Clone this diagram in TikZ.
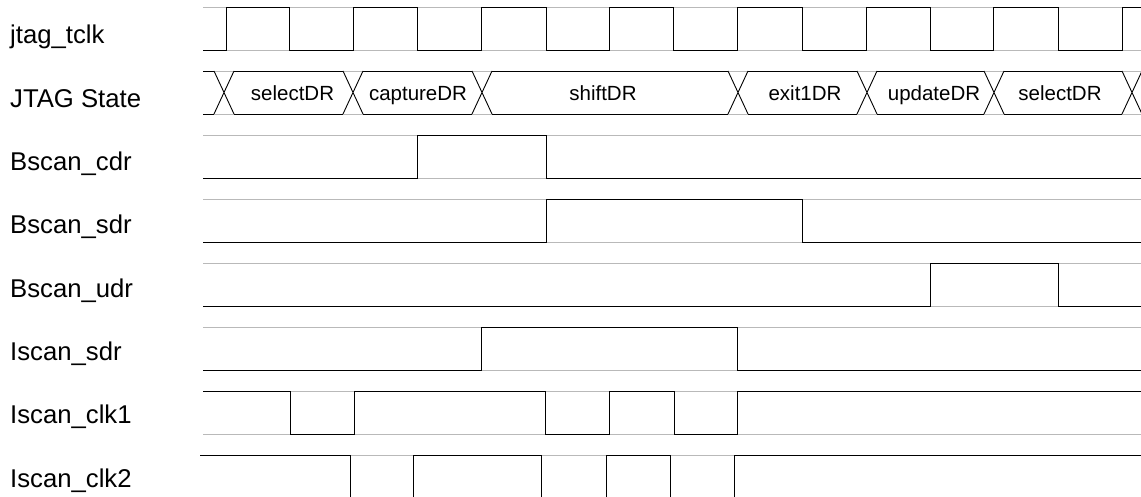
\documentclass[tikz,border=0pt]{standalone}
\usepackage{fontspec}
\setmainfont{Liberation Sans}
\begin{document}
\begin{tikzpicture}[x=1pt,y=-1pt,
  rail/.style={draw=gray!55,line width=0.8pt},
  sig/.style={draw=black,line width=0.9pt,line join=miter},
  lbl/.style={anchor=base west,inner sep=0pt,font=\fontsize{25.7}{30}\selectfont},
  buslbl/.style={anchor=base,inner sep=0pt,font=\fontsize{20.5}{24}\selectfont}]
\useasboundingbox (0,0) rectangle (1141,497);
\clip (0,0) rectangle (1141,497);
% rails
\foreach \t/\s in {7/203,71/203,135/203,199/203,263/203,327/203,391/203,455/200} {
  \draw[rail] (\s,\t) -- (1141,\t);
  \draw[rail] (\s,\t+43) -- (1141,\t+43);
}
% labels
\node[lbl] (l1) at (10,44) {jtag\_tclk};
\node[lbl] (l2) at (10,107.3) {JTAG State};
\node[lbl] (l3) at (10,170.6) {Bscan\_cdr};
\node[lbl] (l4) at (10,233.9) {Bscan\_sdr};
\node[lbl] (l5) at (10,297.2) {Bscan\_udr};
\node[lbl] (l6) at (10,360.5) {Iscan\_sdr};
\node[lbl] (l7) at (10,423.8) {Iscan\_clk1};
\node[lbl] (l8) at (10,487.1) {Iscan\_clk2};
% jtag_tclk
\draw[sig] (203,50)--(226,50)--(226,7)--(289,7)--(289,50)--(353,50)--(353,7)--(417,7)--(417,50)--(481,50)--(481,7)--(546,7)--(546,50)--(609,50)--(609,7)--(673,7)--(673,50)--(737,50)--(737,7)--(802,7)--(802,50)--(866,50)--(866,7)--(930,7)--(930,50)--(993,50)--(993,7)--(1058,7)--(1058,50)--(1122,50)--(1122,7)--(1141,7);
% JTAG State bus
\draw[sig] (203,71)--(214,71) (203,114)--(214,114);
\foreach \a/\b in {224/353,353/482,482/738,738/867,867/994,994/1132} {
  \draw[sig] (\a+10,71)--(\b-10,71) (\a+10,114)--(\b-10,114);
}
\foreach \c in {224,353,482,738,867,994,1132} {
  \draw[sig] (\c-10,71)--(\c+10,114) (\c-10,114)--(\c+10,71);
}
\node[buslbl] (s1) at (292.5,101) {selectDR};
\node[buslbl] (s2) at (418,101) {captureDR};
\node[buslbl] (s3) at (603,101) {shiftDR};
\node[buslbl] (s4) at (805,101) {exit1DR};
\node[buslbl] (s5) at (934,101) {updateDR};
\node[buslbl] (s6) at (1060,101) {selectDR};
% Bscan_cdr
\draw[sig] (203,178)--(417,178)--(417,135)--(546,135)--(546,178)--(1141,178);
% Bscan_sdr
\draw[sig] (203,242)--(546,242)--(546,199)--(802,199)--(802,242)--(1141,242);
% Bscan_udr
\draw[sig] (203,306)--(930,306)--(930,263)--(1058,263)--(1058,306)--(1141,306);
% Iscan_sdr
\draw[sig] (203,370)--(481,370)--(481,327)--(737,327)--(737,370)--(1141,370);
% Iscan_clk1
\draw[sig] (203,391)--(290,391)--(290,434)--(354,434)--(354,391)--(545,391)--(545,434)--(609,434)--(609,391)--(674,391)--(674,434)--(737,434)--(737,391)--(1141,391);
% Iscan_clk2
\draw[sig] (200,455)--(350,455)--(350,498)--(413,498)--(413,455)--(541,455)--(541,498)--(606,498)--(606,455)--(670,455)--(670,498)--(734,498)--(734,455)--(1141,455);
\end{tikzpicture}
\end{document}
